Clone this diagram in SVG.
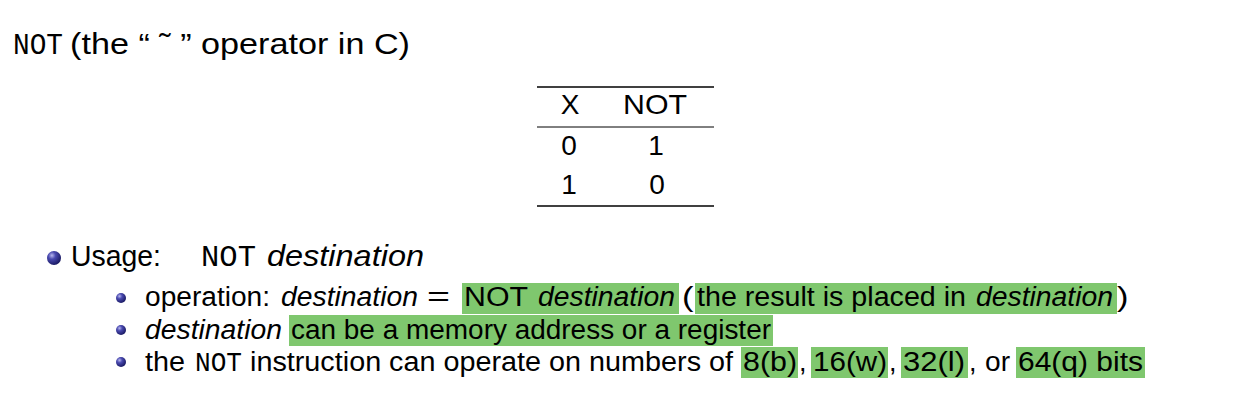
<svg xmlns="http://www.w3.org/2000/svg" width="1244" height="402" viewBox="0 0 1244 402">
<style>
text{font-family:"Liberation Sans",Arial,sans-serif;fill:#000}
.mono{font-family:"Liberation Mono","DejaVu Sans Mono",monospace}
.it{font-style:italic}
.t1{font-size:29.5px}
.t2{font-size:27px}
.tb{font-size:28px}
.hl{fill:#7fc76e}
.rule{stroke:#000}
</style>
<defs>
<radialGradient id="ball" cx="0.35" cy="0.32" r="0.75">
<stop offset="0" stop-color="#b8b8ee"/>
<stop offset="0.35" stop-color="#4a4ab0"/>
<stop offset="1" stop-color="#14145a"/>
</radialGradient>
</defs>
<rect width="1244" height="402" fill="#fff"/>
<g id="title">
<text class="t1 mono" x="13" y="54" textLength="50" lengthAdjust="spacingAndGlyphs">NOT</text>
<text class="t1" x="70" y="54" textLength="340" lengthAdjust="spacingAndGlyphs">(the “ ˜ ” operator in C)</text>
</g>
<g id="truth-table">
<line class="rule" x1="537" y1="87" x2="714" y2="87" stroke-width="1.6"/>
<line class="rule" x1="537" y1="127" x2="714" y2="127" stroke-width="1"/>
<line class="rule" x1="537" y1="206" x2="714" y2="206" stroke-width="1.6"/>
<text class="tb" x="570" y="114" text-anchor="middle">X</text>
<text class="tb" x="655" y="114" text-anchor="middle" textLength="64" lengthAdjust="spacingAndGlyphs">NOT</text>
<text class="tb" x="569" y="155" text-anchor="middle">0</text>
<text class="tb" x="656" y="155" text-anchor="middle">1</text>
<text class="tb" x="569" y="194" text-anchor="middle">1</text>
<text class="tb" x="657" y="194" text-anchor="middle">0</text>
</g>
<g id="usage">
<circle cx="54" cy="258" r="7" fill="url(#ball)"/>
<text class="t1" x="71" y="266" textLength="90" lengthAdjust="spacingAndGlyphs">Usage:</text>
<text class="t1 mono" x="201" y="266" textLength="55" lengthAdjust="spacingAndGlyphs">NOT</text>
<text class="t1 it" x="267" y="266" textLength="157" lengthAdjust="spacingAndGlyphs">destination</text>
</g>
<g id="item-operation">
<circle cx="121" cy="298" r="5" fill="url(#ball)"/>
<rect class="hl" x="462" y="283" width="217" height="31"/>
<rect class="hl" x="695" y="283" width="422" height="31"/>
<text class="t2" x="145" y="306" textLength="125" lengthAdjust="spacingAndGlyphs">operation:</text>
<text class="t2 it" x="281" y="306" textLength="137" lengthAdjust="spacingAndGlyphs">destination</text>
<text class="t2" x="427" y="306" textLength="23" lengthAdjust="spacingAndGlyphs">=</text>
<text class="t2" x="464" y="306" textLength="64" lengthAdjust="spacingAndGlyphs">NOT</text>
<text class="t2 it" x="538" y="306" textLength="137" lengthAdjust="spacingAndGlyphs">destination</text>
<text class="t2" x="682" y="306" textLength="11.5" lengthAdjust="spacingAndGlyphs">(</text>
<text class="t2" x="697" y="306" textLength="269" lengthAdjust="spacingAndGlyphs">the result is placed in</text>
<text class="t2 it" x="976" y="306" textLength="137" lengthAdjust="spacingAndGlyphs">destination</text>
<text class="t2" x="1117" y="306" textLength="11.5" lengthAdjust="spacingAndGlyphs">)</text>
</g>
<g id="item-destination">
<circle cx="121" cy="330" r="5" fill="url(#ball)"/>
<rect class="hl" x="289" y="315" width="484" height="31"/>
<text class="t2 it" x="145" y="339" textLength="137" lengthAdjust="spacingAndGlyphs">destination</text>
<text class="t2" x="291" y="339" textLength="480" lengthAdjust="spacingAndGlyphs">can be a memory address or a register</text>
</g>
<g id="item-sizes">
<circle cx="121" cy="362" r="5" fill="url(#ball)"/>
<rect class="hl" x="741" y="347" width="57" height="31"/>
<rect class="hl" x="811" y="347" width="77" height="31"/>
<rect class="hl" x="901" y="347" width="67" height="31"/>
<rect class="hl" x="1016" y="347" width="129" height="31"/>
<text class="t2" x="145" y="371" textLength="40" lengthAdjust="spacingAndGlyphs">the</text>
<text class="t2 mono" x="195" y="371" textLength="47" lengthAdjust="spacingAndGlyphs">NOT</text>
<text class="t2" x="250" y="371" textLength="483" lengthAdjust="spacingAndGlyphs">instruction can operate on numbers of</text>
<text class="t2" x="743" y="371" textLength="54" lengthAdjust="spacingAndGlyphs">8(b)</text>
<text class="t2" x="799" y="371">,</text>
<text class="t2" x="813" y="371" textLength="74" lengthAdjust="spacingAndGlyphs">16(w)</text>
<text class="t2" x="889" y="371">,</text>
<text class="t2" x="903" y="371" textLength="62" lengthAdjust="spacingAndGlyphs">32(l)</text>
<text class="t2" x="969" y="371">,</text>
<text class="t2" x="985" y="371" textLength="25" lengthAdjust="spacingAndGlyphs">or</text>
<text class="t2" x="1018" y="371" textLength="125" lengthAdjust="spacingAndGlyphs">64(q) bits</text>
</g>
</svg>
